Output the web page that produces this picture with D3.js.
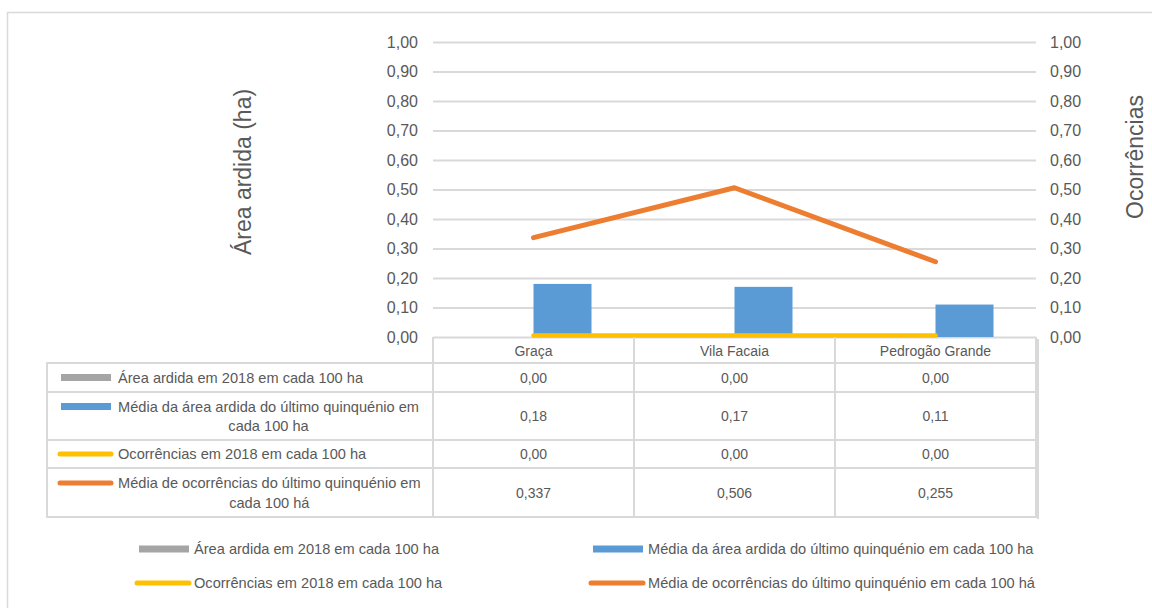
<!DOCTYPE html>
<html>
<head>
<meta charset="utf-8">
<script src="https://cdn.jsdelivr.net/npm/d3@7"></script>
<style>
  body { margin: 0; background: #fff; }
  text { font-family: "Liberation Sans", Arial, sans-serif; fill: #595959; }
</style>
</head>
<body>
<div id="chart"></div>
<script>
// chart data
const categories = ["Graça", "Vila Facaia", "Pedrogão Grande"];
const seriesNames = [
    "Área ardida em 2018 em cada 100 ha",
    "Média da área ardida do último quinquénio em cada 100 ha",
    "Ocorrências em 2018 em cada 100 ha",
    "Média de ocorrências do último quinquénio em cada 100 há"
];
const areaArdida2018 = [0.00, 0.00, 0.00];
const mediaAreaArdida = [0.18, 0.17, 0.11];
const ocorrencias2018 = [0.00, 0.00, 0.00];
const mediaOcorrencias = [0.337, 0.506, 0.255];
const yTicks = [0, 0.1, 0.2, 0.3, 0.4, 0.5, 0.6, 0.7, 0.8, 0.9, 1.0];
const tableDecimals = [2, 2, 2, 3];

const colors = ["#a5a5a5", "#5b9bd5", "#ffc000", "#ed7d31"];
const gridColor = "#d9d9d9";

const width = 1152, height = 608;
const plot = {left: 433, right: 1036, top: 42, bottom: 337};
const labelFont = "14.6px";

// portuguese number format (comma decimal)
const pt = d3.formatLocale({decimal: ",", thousands: ".", grouping: [3], currency: ["", "€"]});

const svg = d3.select("#chart").append("svg")
    .attr("width", width)
    .attr("height", height);

// chart border
svg.append("rect")
    .attr("x", 7.5).attr("y", 12.5)
    .attr("width", 1170).attr("height", 620)
    .attr("fill", "none")
    .attr("stroke", gridColor)
    .attr("stroke-width", 1.5);

let x = d3.scaleBand()
    .domain(categories)
    .range([plot.left, plot.right]);

let y = d3.scaleLinear()
    .domain([0, 1])
    .range([plot.bottom, plot.top]);

// gridlines
svg.append("g")
    .attr("transform", "translate(" + plot.left + ",0)")
    .call(d3.axisLeft(y).tickValues(yTicks).tickSize(-(plot.right - plot.left)).tickFormat(""))
    .call(g => g.select(".domain").remove())
    .call(g => g.selectAll("line").attr("stroke", gridColor).attr("stroke-width", 2));

// left tick labels
svg.append("g")
    .attr("transform", "translate(" + plot.left + ",0)")
    .call(d3.axisLeft(y).tickValues(yTicks).tickSize(0).tickPadding(15).tickFormat(pt.format(".2f")))
    .call(g => g.select(".domain").remove())
    .call(g => g.selectAll("text").style("font-size", "16px").attr("fill", "#595959"));

// right tick labels
svg.append("g")
    .attr("transform", "translate(" + plot.right + ",0)")
    .call(d3.axisRight(y).tickValues(yTicks).tickSize(0).tickPadding(14).tickFormat(pt.format(".2f")))
    .call(g => g.select(".domain").remove())
    .call(g => g.selectAll("text").style("font-size", "16px").attr("fill", "#595959"));

// axis titles
svg.append("text")
    .attr("transform", "translate(243,172) rotate(-90)")
    .attr("text-anchor", "middle")
    .attr("dominant-baseline", "central")
    .style("font-size", "23px")
    .attr("fill", "#6a6a6a")
    .text("Área ardida (ha)");

svg.append("text")
    .attr("transform", "translate(1135,157) rotate(-90)")
    .attr("text-anchor", "middle")
    .attr("dominant-baseline", "central")
    .style("font-size", "23px")
    .attr("fill", "#6a6a6a")
    .text("Ocorrências");

// clustered bars: gray left of centre, blue right
let barW = 58;
let xSub = d3.scaleBand()
    .domain([0, 1])
    .range([x.bandwidth() / 2 - barW, x.bandwidth() / 2 + barW]);

const barSeries = [areaArdida2018, mediaAreaArdida];
barSeries.forEach(function(values, s) {
    svg.append("g").selectAll("rect")
        .data(values)
        .enter()
        .append("rect")
        .attr("x", (d, i) => x(categories[i]) + xSub(s))
        .attr("y", d => y(d))
        .attr("width", xSub.bandwidth())
        .attr("height", d => y(0) - y(d))
        .attr("fill", colors[s]);
});

// lines
let line = d3.line()
    .x((d, i) => x(categories[i]) + x.bandwidth() / 2)
    .y(d => y(d));

const lineSeries = [ocorrencias2018, mediaOcorrencias];
lineSeries.forEach(function(values, s) {
    svg.append("path")
        .datum(values)
        .attr("d", line)
        .attr("fill", "none")
        .attr("stroke", colors[s + 2])
        .attr("stroke-width", s === 0 ? 4.5 : 5)
        .attr("stroke-linecap", "round")
        .attr("stroke-linejoin", "round")
        .attr("transform", s === 0 ? "translate(0,-1.5)" : null);
});

// data table
const tableLeft = 47;
const rowEdges = [337, 363, 392, 440, 468, 517];
const allSeries = [areaArdida2018, mediaAreaArdida, ocorrencias2018, mediaOcorrencias];
const table = svg.append("g");

function hLine(x1, x2, yy) {
    table.append("line")
        .attr("x1", x1).attr("x2", x2).attr("y1", yy).attr("y2", yy)
        .attr("stroke", gridColor).attr("stroke-width", 2);
}
function vLine(xx, y1, y2) {
    table.append("line")
        .attr("x1", xx).attr("x2", xx).attr("y1", y1).attr("y2", y2)
        .attr("stroke", gridColor).attr("stroke-width", 2);
}

for (let r = 1; r < rowEdges.length; r++) {
    hLine(tableLeft - 1, plot.right + 1, rowEdges[r]);
}
vLine(tableLeft, rowEdges[1], rowEdges[5] + 1);
categories.forEach(c => vLine(x(c), rowEdges[0], rowEdges[5] + 1));
vLine(plot.right, rowEdges[0], rowEdges[5] + 1);
vLine(plot.right + 2, rowEdges[0] + 2, rowEdges[5] + 2);

// header
table.selectAll(".hdr")
    .data(categories)
    .enter()
    .append("text")
    .attr("x", d => x(d) + x.bandwidth() / 2)
    .attr("y", (rowEdges[0] + rowEdges[1]) / 2 + 1)
    .attr("text-anchor", "middle")
    .attr("dominant-baseline", "central")
    .style("font-size", "14px")
    .text(d => d);

// rows
allSeries.forEach(function(values, s) {
    let top = rowEdges[s + 1], bottom = rowEdges[s + 2];
    let mid = (top + bottom) / 2;
    let words = seriesNames[s].split(" ");
    let lines = words.length > 8 ? [words.slice(0, -3).join(" "), words.slice(-3).join(" ")] : [seriesNames[s]];
    let firstY = lines.length > 1 ? mid - 9.5 : mid;

    // legend key
    if (s < 2) {
        table.append("rect")
            .attr("x", 61).attr("y", firstY - 3.5)
            .attr("width", 50).attr("height", 7)
            .attr("fill", colors[s]);
    } else {
        table.append("line")
            .attr("x1", 60).attr("x2", 111)
            .attr("y1", firstY).attr("y2", firstY)
            .attr("stroke", colors[s]).attr("stroke-width", 5)
            .attr("stroke-linecap", "round");
    }

    let t1 = table.append("text")
        .attr("x", 118)
        .attr("y", firstY)
        .attr("dominant-baseline", "central")
        .style("font-size", labelFont)
        .text(lines[0]);
    if (lines.length > 1) {
        let w = t1.node().getComputedTextLength();
        table.append("text")
            .attr("x", 118 + w / 2)
            .attr("y", firstY + 19.5)
            .attr("text-anchor", "middle")
            .attr("dominant-baseline", "central")
            .style("font-size", labelFont)
            .text(lines[1]);
    }

    table.append("g").selectAll("text")
        .data(values)
        .enter()
        .append("text")
        .attr("x", (d, i) => x(categories[i]) + x.bandwidth() / 2)
        .attr("y", mid)
        .attr("text-anchor", "middle")
        .attr("dominant-baseline", "central")
        .style("font-size", "14px")
        .text(d => pt.format("." + tableDecimals[s] + "f")(d));
});

// bottom legend
const legendPos = [[139, 549], [593, 549], [139, 583], [593, 583]];
const legend = svg.append("g");
seriesNames.forEach(function(name, s) {
    let lx = legendPos[s][0], ly = legendPos[s][1];
    if (s < 2) {
        legend.append("rect")
            .attr("x", lx).attr("y", ly - 3.5)
            .attr("width", 50).attr("height", 7)
            .attr("fill", colors[s]);
    } else {
        legend.append("line")
            .attr("x1", lx - 2).attr("x2", lx + 50)
            .attr("y1", ly).attr("y2", ly)
            .attr("stroke", colors[s]).attr("stroke-width", 5)
            .attr("stroke-linecap", "round");
    }
    legend.append("text")
        .attr("x", lx + 55)
        .attr("y", ly)
        .attr("dominant-baseline", "central")
        .style("font-size", labelFont)
        .text(name);
});
</script>
</body>
</html>
